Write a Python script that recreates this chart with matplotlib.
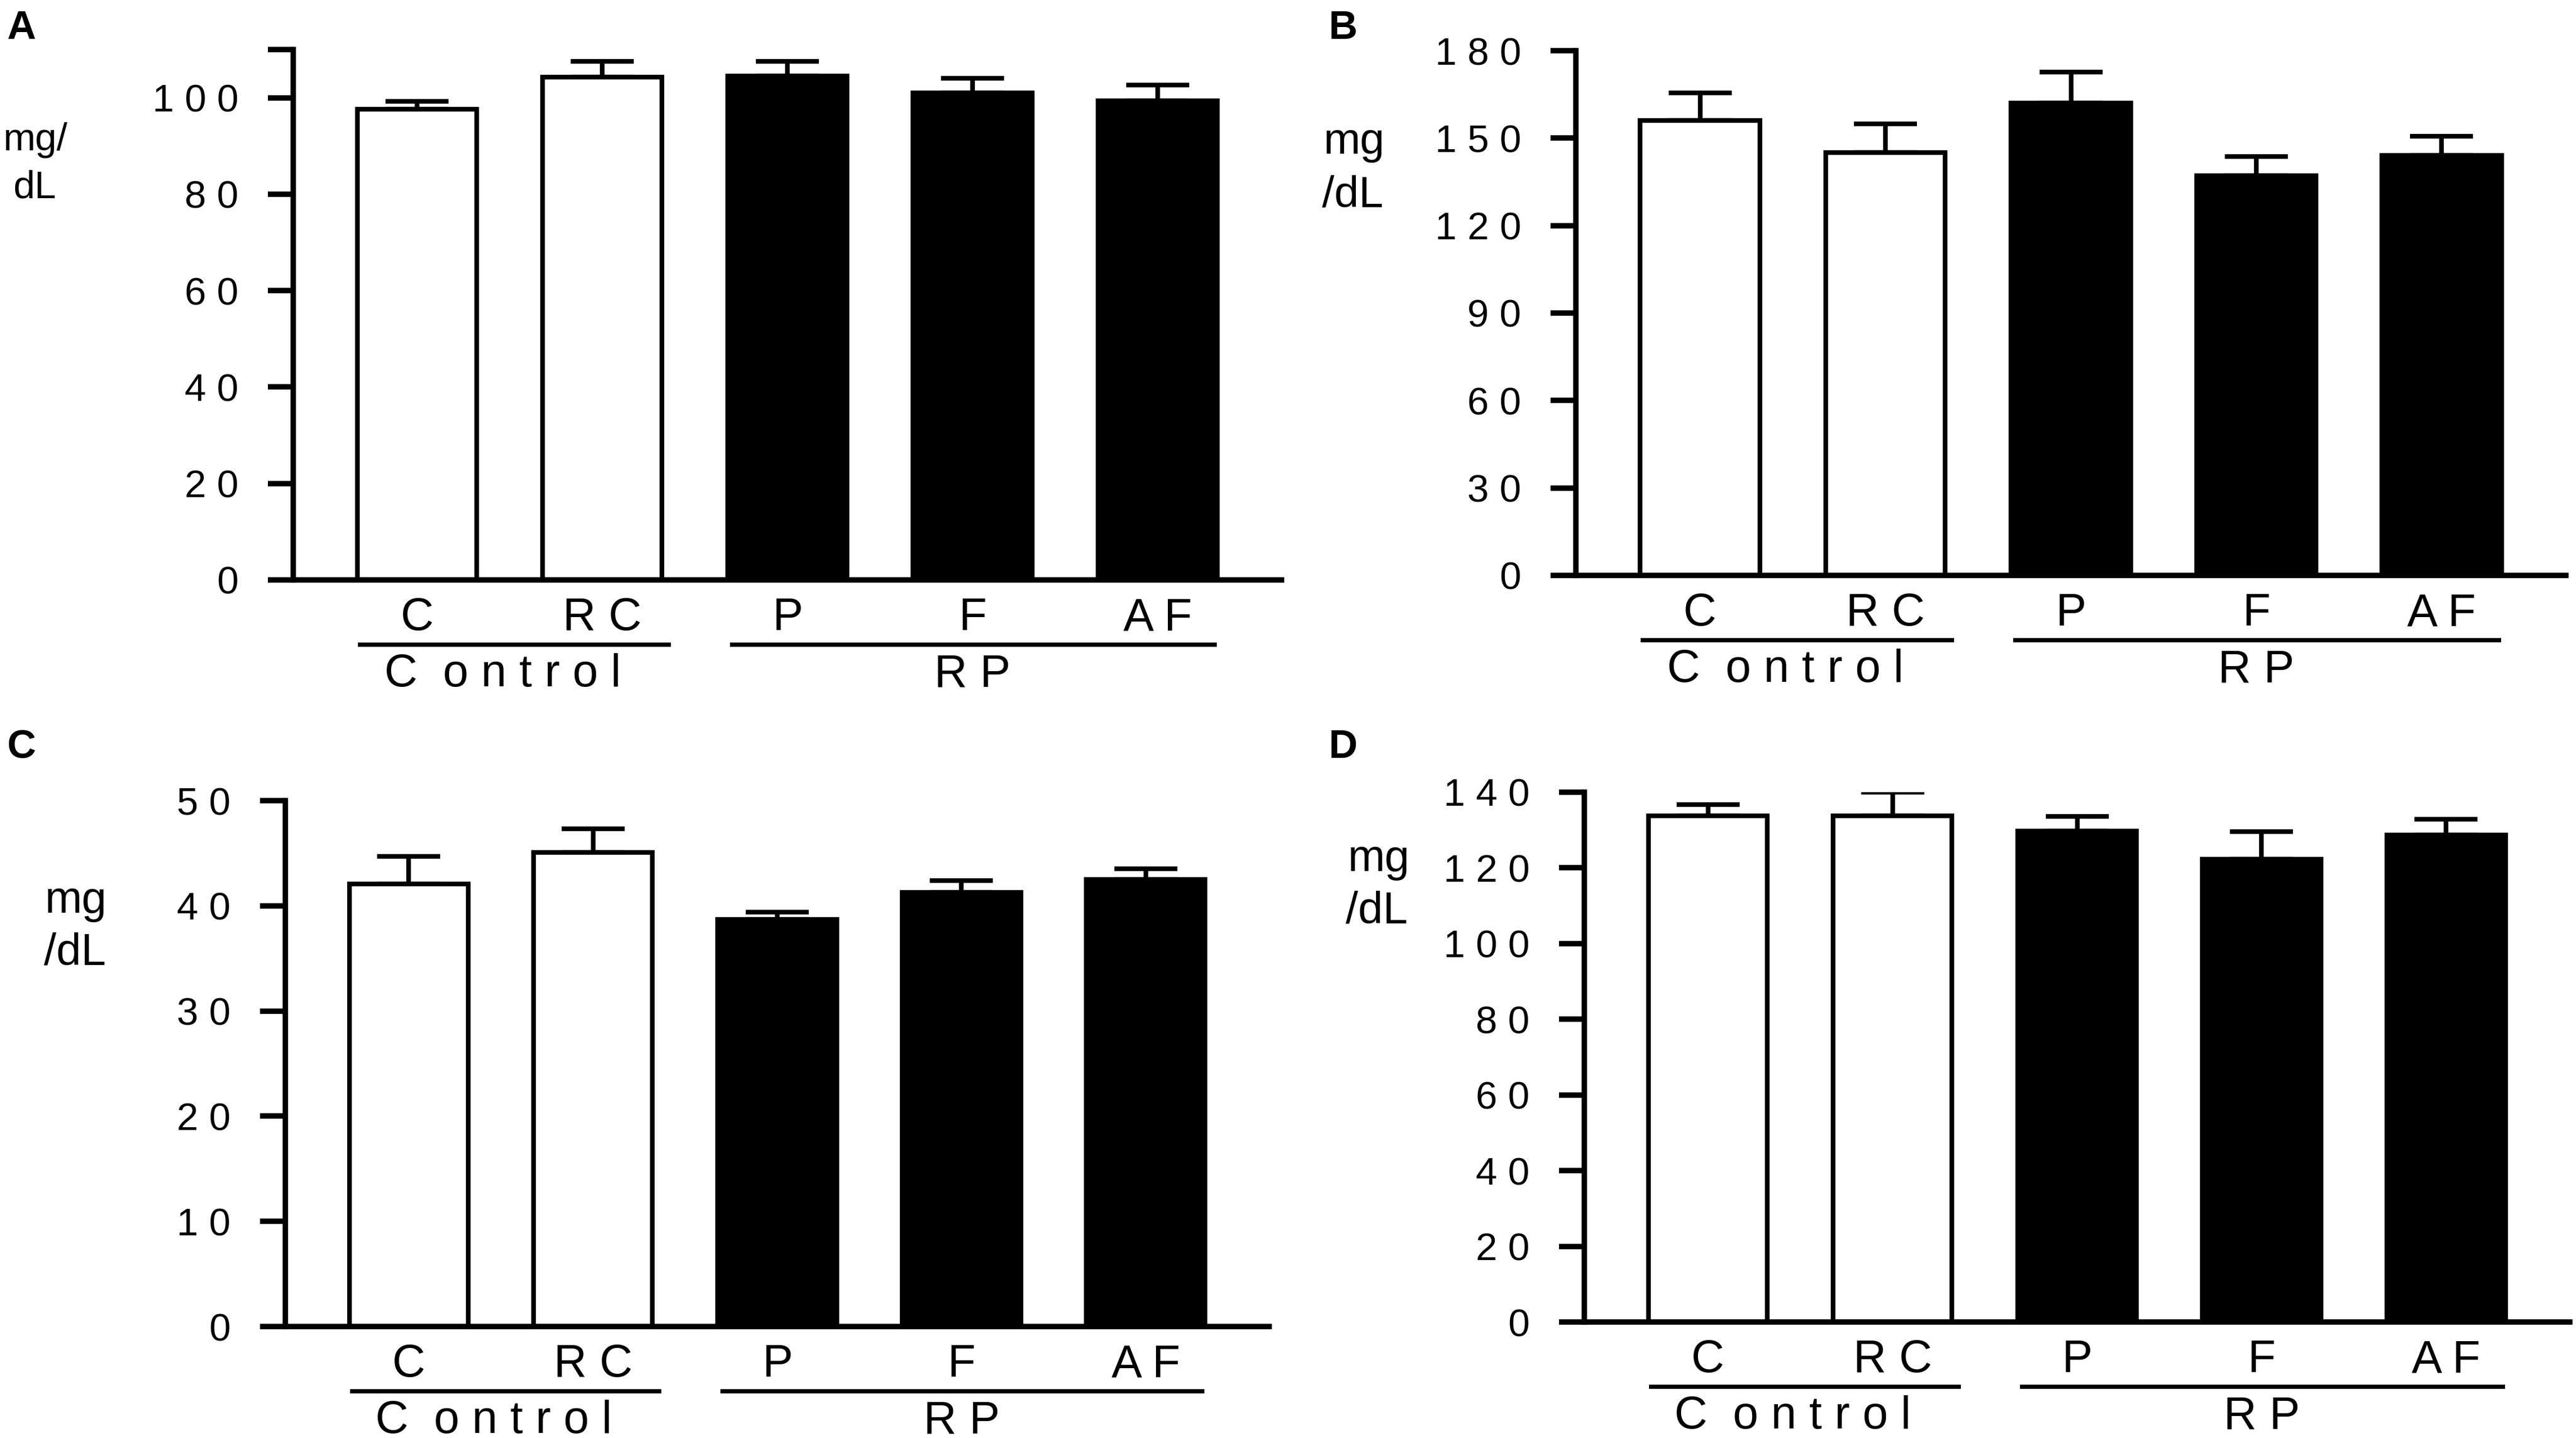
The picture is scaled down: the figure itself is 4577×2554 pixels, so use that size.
import matplotlib
matplotlib.use("Agg")
import matplotlib.pyplot as plt
from matplotlib import font_manager
from matplotlib.transforms import ScaledTranslation
import numpy as np

# groups on the x axis
categories = ["C", "R C", "P", "F", "A F"]
bar_colors = ["white", "white", "black", "black", "black"]
groups = ["C  o n t r o l", "R P"]

# mean values (mg/dL)
mean_a = [97.6, 104.3, 104.5, 101.0, 99.4]
mean_b = [156.0, 145.1, 162.0, 137.2, 144.0]
mean_c = [42.1, 45.1, 38.7, 41.3, 42.5]
mean_d = [133.8, 133.8, 129.8, 122.3, 128.7]

# upper error (SEM)
sem_a = [1.6, 3.3, 3.1, 3.1, 3.2]
sem_b = [9.6, 9.8, 10.7, 6.5, 6.6]
sem_c = [2.6, 2.2, 0.7, 1.1, 1.0]
sem_d = [3.0, 6.2, 3.8, 7.3, 4.1]

yticks_a = [0, 20, 40, 60, 80, 100, 110]
yticks_b = [0, 30, 60, 90, 120, 150, 180]
yticks_c = [0, 10, 20, 30, 40, 50]
yticks_d = [0, 20, 40, 60, 80, 100, 120, 140]

ylabels = [("mg/", "dL"), ("mg", "/dL"), ("mg", "/dL"), ("mg", "/dL")]
letters = ["A", "B", "C", "D"]


def pick_font(names):
    for n in names:
        try:
            font_manager.findfont(n, fallback_to_default=False)
            return n
        except Exception:
            pass
    return "DejaVu Sans"


sans = pick_font(["Liberation Sans", "Arial"])

W, H = 4577, 2554
fig = plt.figure(figsize=(W / 300, H / 300), dpi=300)

# axes boxes in pixels: left spine x, right end x, top y, zero y
boxes = [(521, 2277, 88, 1030), (2800, 4559, 90, 1022),
         (507, 2255, 1422, 2356), (2815, 4566, 1407, 2348)]
# y label lines: (x, baseline y) for each line, font size
ylab_pos = [((5, 267), (23, 352), 16.5),
            ((2352, 273), (2349, 368), 18.8),
            ((80, 1621), (78, 1713), 19),
            ((2395, 1547), (2391, 1640), 19)]
letter_pos = [(12, 18), (2360, 18), (12, 1295), (2360, 1295)]

panels = [(mean_a, sem_a, yticks_a), (mean_b, sem_b, yticks_b),
          (mean_c, sem_c, yticks_c), (mean_d, sem_d, yticks_d)]

x = np.arange(len(categories))

for i, (means, sems, yt) in enumerate(panels):
    x0, x1, ytop, yzero = boxes[i]
    ax = fig.add_axes([x0 / W, 1 - yzero / H, (x1 - x0) / W, (yzero - ytop) / H])

    ax.bar(x, means, width=0.645, color=bar_colors, edgecolor="black",
           linewidth=2.0, zorder=2)
    ax.errorbar(x, means, yerr=[np.zeros(len(sems)), sems], fmt="none",
                ecolor="black", elinewidth=2.0, capsize=13.5, capthick=2.0,
                zorder=1)

    ax.set_xlim(-0.67, 4.67)
    ax.set_ylim(0, yt[-1])
    ax.spines["top"].set_visible(False)
    ax.spines["right"].set_visible(False)
    for s in ("left", "bottom"):
        ax.spines[s].set_linewidth(2.3)
        ax.spines[s].set_capstyle("projecting")

    ax.set_yticks(yt)
    labs = [" ".join(str(v)) for v in yt]
    if i == 0:
        labs[-1] = ""
    ax.set_yticklabels(labs, fontfamily=sans, fontsize=16.5)
    ax.tick_params(axis="y", length=10.8, width=2.3, pad=12.5, direction="out")
    ax.set_xticks([])

    # category names and group brackets under the axis
    def below(pts):
        return ax.get_xaxis_transform() + ScaledTranslation(0, -pts / 72, fig.dpi_scale_trans)

    for xi, name in zip(x, categories):
        ax.text(xi, 0, name, transform=below(21.4), ha="center", va="baseline",
                fontfamily=sans, fontsize=19.5)
    ax.plot([-0.32, 1.37], [0, 0], color="black", lw=1.8, clip_on=False,
            transform=below(27.6), solid_capstyle="butt")
    ax.plot([1.69, 4.32], [0, 0], color="black", lw=1.8, clip_on=False,
            transform=below(27.6), solid_capstyle="butt")
    ax.text(0.46, 0, groups[0], transform=below(45.4), ha="center", va="baseline",
            fontfamily=sans, fontsize=19.5)
    ax.text(3.0, 0, groups[1], transform=below(45.4), ha="center", va="baseline",
            fontfamily=sans, fontsize=19.5)

    (ax1, ay1), (ax2, ay2), lsize = ylab_pos[i]
    fig.text(ax1 / W, 1 - ay1 / H, ylabels[i][0], ha="left", va="baseline",
             fontfamily=sans, fontsize=lsize)
    fig.text(ax2 / W, 1 - ay2 / H, ylabels[i][1], ha="left", va="baseline",
             fontfamily=sans, fontsize=lsize)

    px, py = letter_pos[i]
    fig.text(px / W, 1 - py / H, letters[i], ha="left", va="top",
             fontfamily=sans, fontweight="bold", fontsize=17)

fig.savefig("out.png", dpi=300, facecolor="white")
